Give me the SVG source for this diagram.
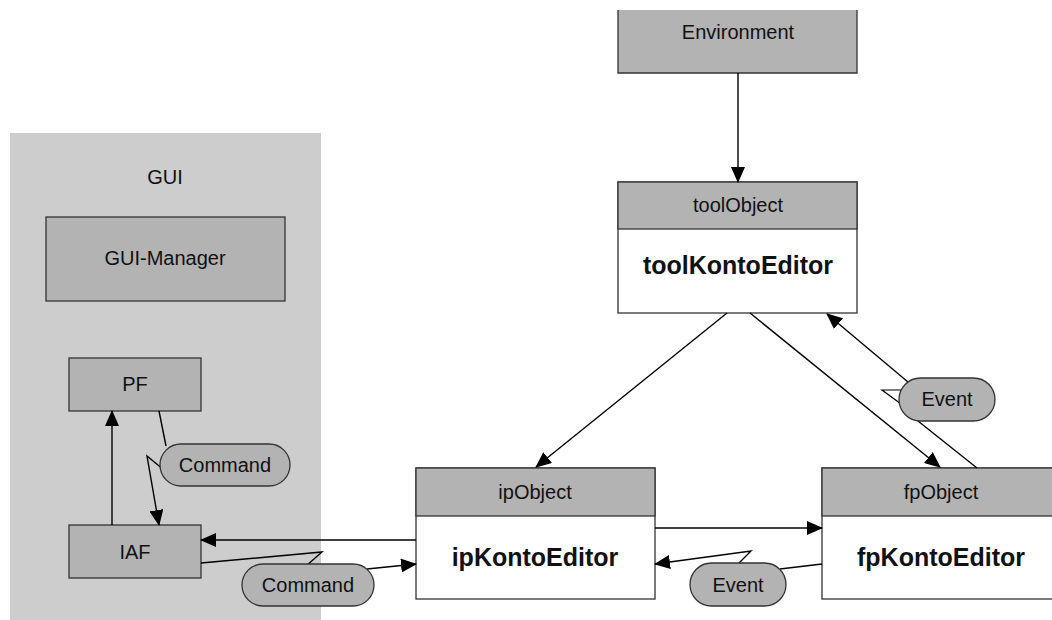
<svg xmlns="http://www.w3.org/2000/svg" width="1052" height="620" viewBox="0 0 1052 620">
  <style>
    text { font-family: "Liberation Sans", Arial, sans-serif; font-size: 20px; fill: #111; text-anchor: middle; }
    .bold { font-weight: bold; font-size: 25px; }
    .box { fill: #b3b3b3; stroke: #333; stroke-width: 1.3; }
    .body { fill: #fff; stroke: #333; stroke-width: 1.3; }
    .pill { fill: #b3b3b3; stroke: #333; stroke-width: 1.3; }
    .line { fill: none; stroke: #000; stroke-width: 1.4; }
    .arrow { marker-end: url(#head); }
    .tail { fill: #fff; stroke: #000; stroke-width: 1.2; }
  </style>
  <defs>
    <marker id="head" markerUnits="userSpaceOnUse" markerWidth="16" markerHeight="14" refX="15" refY="7" orient="auto">
      <path d="M0,0 L16,7 L0,14 Z" fill="#000"/>
    </marker>
  </defs>

  <rect width="1052" height="620" fill="#fff"/>

  <!-- GUI container -->
  <g id="gui">
    <rect x="10" y="133" width="311" height="487" fill="#cdcdcd"/>
    <text x="165" y="184">GUI</text>
  </g>

  <g id="gui-manager">
    <rect class="box" x="46" y="217" width="239" height="84"/>
    <text x="165" y="265">GUI-Manager</text>
  </g>

  <g id="pf">
    <rect class="box" x="69" y="358" width="132" height="53"/>
    <text x="135" y="391">PF</text>
  </g>

  <g id="iaf">
    <rect class="box" x="69" y="525" width="132" height="53"/>
    <text x="135" y="559">IAF</text>
  </g>

  <g id="environment">
    <rect x="618" y="10" width="239" height="63" fill="#b3b3b3"/>
    <path d="M618,10 V73 H857 V10" fill="none" stroke="#333" stroke-width="1.3"/>
    <text x="738" y="39">Environment</text>
  </g>

  <g id="tool-object">
    <rect class="body" x="618" y="182" width="239" height="131"/>
    <rect class="box" x="618" y="182" width="239" height="47"/>
    <text x="738" y="212">toolObject</text>
    <text class="bold" x="738" y="274">toolKontoEditor</text>
  </g>

  <g id="ip-object">
    <rect class="body" x="416" y="468" width="239" height="131"/>
    <rect class="box" x="416" y="468" width="239" height="48"/>
    <text x="535" y="499">ipObject</text>
    <text class="bold" x="535" y="566">ipKontoEditor</text>
  </g>

  <g id="fp-object">
    <rect class="body" x="822" y="468" width="240" height="131"/>
    <rect class="box" x="822" y="468" width="240" height="48"/>
    <text x="941" y="499">fpObject</text>
    <text class="bold" x="941" y="566">fpKontoEditor</text>
  </g>

  <!-- connectors -->
  <g id="connectors">
    <line class="line arrow" x1="738" y1="73" x2="738" y2="182"/>
    <line class="line arrow" x1="727" y1="313" x2="536" y2="467"/>
    <line class="line arrow" x1="750" y1="313" x2="940" y2="467"/>
    <line class="line arrow" x1="655" y1="528" x2="822" y2="528"/>
    <line class="line arrow" x1="416" y1="540" x2="201" y2="540"/>
    <line class="line arrow" x1="112" y1="525" x2="112" y2="411"/>

    <!-- fpObject -> toolObject (Event) -->
    <line class="line" x1="977" y1="468" x2="918" y2="421"/>
    <line class="line arrow" x1="908" y1="382" x2="827" y2="314"/>
    <polygon class="tail" points="912,390 882,390 912,412"/>

    <!-- fpKontoEditor -> ipKontoEditor (Event) -->
    <line class="line" x1="822" y1="564" x2="780" y2="569"/>
    <polyline class="line arrow" points="736,566 751,551 655,564"/>

    <!-- IAF -> ipKontoEditor (Command) -->
    <polyline class="line" points="201,563 322,552 306,566"/>
    <line class="line arrow" x1="367" y1="569" x2="416" y2="564"/>

    <!-- PF -> IAF (Command) -->
    <line class="line" x1="159" y1="411" x2="166" y2="446"/>
    <polyline class="line arrow" points="164,470 147,456 159,525"/>
  </g>

  <!-- message labels -->
  <g id="msg-command-gui">
    <rect class="pill" x="160" y="444" width="130" height="42" rx="21"/>
    <text x="225" y="472">Command</text>
  </g>
  <g id="msg-command-ip">
    <rect class="pill" x="242" y="564" width="132" height="42" rx="21"/>
    <text x="308" y="592">Command</text>
  </g>
  <g id="msg-event-ip">
    <rect class="pill" x="690" y="563" width="96" height="43" rx="21.5"/>
    <text x="738" y="592">Event</text>
  </g>
  <g id="msg-event-tool">
    <rect class="pill" x="899" y="378" width="96" height="43" rx="21.5"/>
    <text x="947" y="406">Event</text>
  </g>
</svg>
